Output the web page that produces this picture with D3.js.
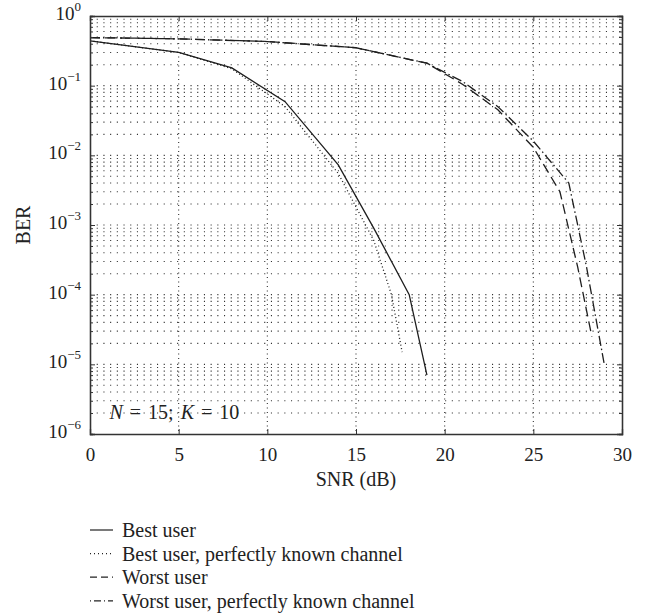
<!DOCTYPE html>
<html>
<head>
<meta charset="utf-8">
<script src="https://cdn.jsdelivr.net/npm/d3@7"></script>
<style>
  body { margin: 0; background: #fff; }
  svg text { font-family: "Liberation Serif", "DejaVu Serif", serif; fill: #222; }
</style>
</head>
<body>
<svg id="chart" width="646" height="615"></svg>
<script>
// values
var snrBest = [0, 5, 8, 11, 14, 16, 18, 19]
var berBest = [0.44, 0.30, 0.18, 0.059, 0.0073, 0.0009, 0.0001, 0.000007]

var snrBestKnown = [0, 5, 8, 11, 14, 16, 17, 17.6]
var berBestKnown = [0.44, 0.30, 0.175, 0.05, 0.0055, 0.0006, 0.0001, 0.000015]

var snrWorst = [0, 5, 10, 15, 19, 21, 23, 25, 26.5, 27.5, 28.3]
var berWorst = [0.49, 0.47, 0.43, 0.35, 0.21, 0.105, 0.045, 0.013, 0.003, 0.00025, 0.000025]

var snrWorstKnown = [0, 5, 10, 15, 19, 21, 23, 25, 27, 28, 29]
var berWorstKnown = [0.49, 0.47, 0.43, 0.35, 0.21, 0.115, 0.05, 0.016, 0.004, 0.00025, 0.00001]

var xTicks = [0, 5, 10, 15, 20, 25, 30]
var yExponents = [0, -1, -2, -3, -4, -5, -6]

var legendNames = ['Best user', 'Best user, perfectly known channel', 'Worst user', 'Worst user, perfectly known channel']

let margin = { top: 16, left: 90, right: 24, bottom: 181 }
let width = 646 - margin.left - margin.right
let height = 615 - margin.top - margin.bottom

let svg = d3.select('#chart')
let g = svg.append('g').attr('transform', `translate(${margin.left},${margin.top})`)

let x = d3.scaleLinear().domain([0, 30]).range([0, width])
let y = d3.scaleLog().domain([1e-6, 1]).range([height, 0])

// grid: major x, all decades + minor y
let minorY = []
for (let e = -6; e < 0; e++) {
    for (let m = 2; m <= 9; m++) minorY.push(m * Math.pow(10, e))
}
let majorY = yExponents.map(e => Math.pow(10, e))

g.selectAll('.hgrid').data(minorY.concat(majorY.slice(1, -1))).join('line')
    .attr('x1', 0).attr('x2', width)
    .attr('y1', d => y(d)).attr('y2', d => y(d))
    .style('stroke', '#333').style('stroke-width', 1.1)
    .style('stroke-dasharray', '1.1,5.6')

g.selectAll('.vgrid').data(xTicks.slice(1, -1)).join('line')
    .attr('x1', d => x(d)).attr('x2', d => x(d))
    .attr('y1', 0).attr('y2', height)
    .style('stroke', '#333').style('stroke-width', 1.1)
    .style('stroke-dasharray', '1.1,3.4')

// curves
let series = [
    { snr: snrBest, ber: berBest, dash: null },
    { snr: snrBestKnown, ber: berBestKnown, dash: '1,2.5' },
    { snr: snrWorst, ber: berWorst, dash: '10,5' },
    { snr: snrWorstKnown, ber: berWorstKnown, dash: '10,3,1.5,3' }
]

let line = d3.line().x(d => x(d[0])).y(d => y(d[1]))

series.forEach(s => {
    g.append('path')
        .datum(d3.zip(s.snr, s.ber))
        .attr('d', line)
        .style('fill', 'none')
        .style('stroke', '#1e1e1e')
        .style('stroke-width', 1.3)
        .style('stroke-dasharray', s.dash)
})

// axes box + inward ticks
let axB = g.append('g').attr('transform', `translate(0,${height})`)
    .call(d3.axisBottom(x).tickValues(xTicks).tickSize(-5).tickPadding(14))
g.append('g')
    .call(d3.axisTop(x).tickValues(xTicks).tickSize(-5).tickFormat(''))
g.append('g')
    .call(d3.axisLeft(y).tickValues(majorY).tickSize(-5).tickFormat(''))
g.append('g').attr('transform', `translate(${width},0)`)
    .call(d3.axisRight(y).tickValues(majorY).tickSize(-5).tickFormat(''))
g.append('g').call(d3.axisLeft(y).tickValues(minorY).tickSize(-3).tickFormat(''))
g.append('g').attr('transform', `translate(${width},0)`)
    .call(d3.axisRight(y).tickValues(minorY).tickSize(-3).tickFormat(''))

g.selectAll('.domain').style('stroke', '#333').style('stroke-width', 1.3)
g.selectAll('.tick line').style('stroke', '#333')

axB.selectAll('text')
    .style('font-size', '19px')
    .style('font-family', '"Liberation Serif", serif')
    .attr('fill', '#222')

// y labels with superscripts
let yl = g.selectAll('.ylab').data(yExponents).join('text')
    .attr('x', -9)
    .attr('y', d => y(Math.pow(10, d)) + 4)
    .attr('text-anchor', 'end')
    .style('font-size', '19px')
yl.append('tspan').text('10')
yl.append('tspan').attr('dy', -9).style('font-size', '13px')
    .text(d => d < 0 ? '\u2212' + Math.abs(d) : d)

// axis titles
g.append('text')
    .attr('x', width / 2).attr('y', height + 52)
    .attr('text-anchor', 'middle')
    .style('font-size', '20px')
    .text('SNR (dB)')

g.append('text')
    .attr('transform', `translate(${23 - margin.left},${height / 2}) rotate(-90)`)
    .attr('text-anchor', 'middle')
    .attr('dy', '0.35em')
    .style('font-size', '20px')
    .text('BER')

// annotation
let note = g.append('text')
    .attr('x', x(1.1)).attr('y', y(1e-6) - 15)
    .style('font-size', '20px')
    .style('word-spacing', '2px')
note.append('tspan').style('font-style', 'italic').text('N')
note.append('tspan').text(' = 15; ')
note.append('tspan').style('font-style', 'italic').text('K')
note.append('tspan').text(' = 10')

// legend
let leg = svg.append('g').attr('transform', 'translate(90,530)')
let rows = leg.selectAll('g').data(series).join('g')
    .attr('transform', (d, i) => `translate(0,${i * 23.6})`)
rows.append('line')
    .attr('x1', 0).attr('x2', 23).attr('y1', 0).attr('y2', 0)
    .style('stroke', '#222').style('stroke-width', 1.2)
    .style('stroke-dasharray', (d, i) => ['', '1,3', '7,4', '1,3,7,3'][i])
rows.append('text')
    .attr('x', 32).attr('y', 7)
    .style('font-size', '20px')
    .text((d, i) => legendNames[i])
</script>
</body>
</html>
